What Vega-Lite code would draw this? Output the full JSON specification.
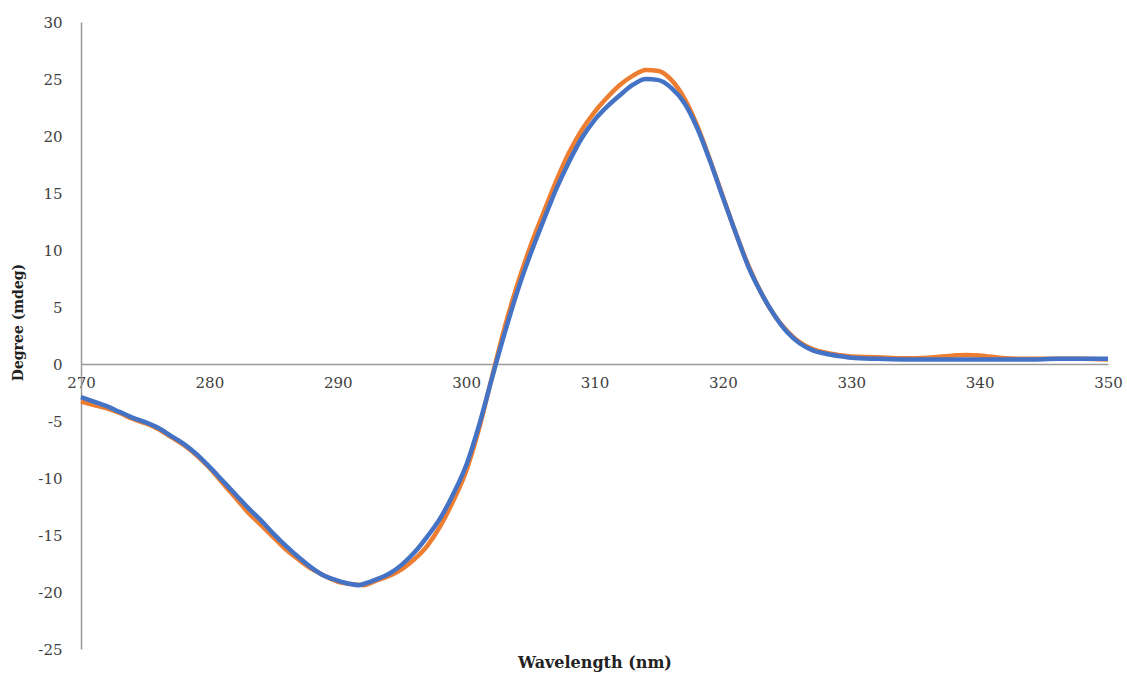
{
  "$schema": "https://vega.github.io/schema/vega-lite/v6.json",
  "width": 1027,
  "height": 627,
  "autosize": {"type": "none"},
  "padding": {"left": 81, "top": 22, "right": 19, "bottom": 24},
  "background": "white",
  "config": {
    "view": {"stroke": null},
    "font": "DejaVu Serif"
  },
  "data": {
    "values": [
      {"series": "Sample 1", "wavelength": 270, "degree": -3.3},
      {"series": "Sample 1", "wavelength": 271, "degree": -3.6},
      {"series": "Sample 1", "wavelength": 272, "degree": -3.9},
      {"series": "Sample 1", "wavelength": 273, "degree": -4.3},
      {"series": "Sample 1", "wavelength": 274, "degree": -4.8},
      {"series": "Sample 1", "wavelength": 275, "degree": -5.2},
      {"series": "Sample 1", "wavelength": 276, "degree": -5.7},
      {"series": "Sample 1", "wavelength": 277, "degree": -6.4},
      {"series": "Sample 1", "wavelength": 278, "degree": -7.1},
      {"series": "Sample 1", "wavelength": 279, "degree": -8.0},
      {"series": "Sample 1", "wavelength": 280, "degree": -9.1},
      {"series": "Sample 1", "wavelength": 281, "degree": -10.4},
      {"series": "Sample 1", "wavelength": 282, "degree": -11.7},
      {"series": "Sample 1", "wavelength": 283, "degree": -13.0},
      {"series": "Sample 1", "wavelength": 284, "degree": -14.1},
      {"series": "Sample 1", "wavelength": 285, "degree": -15.2},
      {"series": "Sample 1", "wavelength": 286, "degree": -16.3},
      {"series": "Sample 1", "wavelength": 287, "degree": -17.2},
      {"series": "Sample 1", "wavelength": 288, "degree": -18.0},
      {"series": "Sample 1", "wavelength": 289, "degree": -18.6},
      {"series": "Sample 1", "wavelength": 290, "degree": -19.1},
      {"series": "Sample 1", "wavelength": 291, "degree": -19.3},
      {"series": "Sample 1", "wavelength": 292, "degree": -19.4},
      {"series": "Sample 1", "wavelength": 293, "degree": -19.0},
      {"series": "Sample 1", "wavelength": 294, "degree": -18.6},
      {"series": "Sample 1", "wavelength": 295, "degree": -18.0},
      {"series": "Sample 1", "wavelength": 296, "degree": -17.1},
      {"series": "Sample 1", "wavelength": 297, "degree": -15.9},
      {"series": "Sample 1", "wavelength": 298, "degree": -14.2},
      {"series": "Sample 1", "wavelength": 299, "degree": -12.0},
      {"series": "Sample 1", "wavelength": 300, "degree": -9.4},
      {"series": "Sample 1", "wavelength": 301, "degree": -5.7},
      {"series": "Sample 1", "wavelength": 302, "degree": -1.2},
      {"series": "Sample 1", "wavelength": 303, "degree": 3.2},
      {"series": "Sample 1", "wavelength": 304, "degree": 7.0},
      {"series": "Sample 1", "wavelength": 305, "degree": 10.3},
      {"series": "Sample 1", "wavelength": 306, "degree": 13.2},
      {"series": "Sample 1", "wavelength": 307, "degree": 16.0},
      {"series": "Sample 1", "wavelength": 308, "degree": 18.5},
      {"series": "Sample 1", "wavelength": 309, "degree": 20.5},
      {"series": "Sample 1", "wavelength": 310, "degree": 22.1},
      {"series": "Sample 1", "wavelength": 311, "degree": 23.4},
      {"series": "Sample 1", "wavelength": 312, "degree": 24.5},
      {"series": "Sample 1", "wavelength": 313, "degree": 25.3},
      {"series": "Sample 1", "wavelength": 314, "degree": 25.8},
      {"series": "Sample 1", "wavelength": 315, "degree": 25.7},
      {"series": "Sample 1", "wavelength": 316, "degree": 24.9},
      {"series": "Sample 1", "wavelength": 317, "degree": 23.3},
      {"series": "Sample 1", "wavelength": 318, "degree": 20.9},
      {"series": "Sample 1", "wavelength": 319, "degree": 17.9},
      {"series": "Sample 1", "wavelength": 320, "degree": 14.7},
      {"series": "Sample 1", "wavelength": 321, "degree": 11.5},
      {"series": "Sample 1", "wavelength": 322, "degree": 8.6},
      {"series": "Sample 1", "wavelength": 323, "degree": 6.2},
      {"series": "Sample 1", "wavelength": 324, "degree": 4.3},
      {"series": "Sample 1", "wavelength": 325, "degree": 2.9},
      {"series": "Sample 1", "wavelength": 326, "degree": 1.9},
      {"series": "Sample 1", "wavelength": 327, "degree": 1.3},
      {"series": "Sample 1", "wavelength": 328, "degree": 1.0},
      {"series": "Sample 1", "wavelength": 329, "degree": 0.8},
      {"series": "Sample 1", "wavelength": 330, "degree": 0.65},
      {"series": "Sample 1", "wavelength": 332, "degree": 0.6},
      {"series": "Sample 1", "wavelength": 334, "degree": 0.5},
      {"series": "Sample 1", "wavelength": 336, "degree": 0.55},
      {"series": "Sample 1", "wavelength": 338, "degree": 0.75},
      {"series": "Sample 1", "wavelength": 339, "degree": 0.8},
      {"series": "Sample 1", "wavelength": 340, "degree": 0.75},
      {"series": "Sample 1", "wavelength": 342, "degree": 0.5},
      {"series": "Sample 1", "wavelength": 344, "degree": 0.45},
      {"series": "Sample 1", "wavelength": 346, "degree": 0.45},
      {"series": "Sample 1", "wavelength": 348, "degree": 0.45},
      {"series": "Sample 1", "wavelength": 350, "degree": 0.4},
      {"series": "Sample 2", "wavelength": 270, "degree": -2.9},
      {"series": "Sample 2", "wavelength": 271, "degree": -3.3},
      {"series": "Sample 2", "wavelength": 272, "degree": -3.7},
      {"series": "Sample 2", "wavelength": 273, "degree": -4.2},
      {"series": "Sample 2", "wavelength": 274, "degree": -4.7},
      {"series": "Sample 2", "wavelength": 275, "degree": -5.1},
      {"series": "Sample 2", "wavelength": 276, "degree": -5.6},
      {"series": "Sample 2", "wavelength": 277, "degree": -6.3},
      {"series": "Sample 2", "wavelength": 278, "degree": -7.0},
      {"series": "Sample 2", "wavelength": 279, "degree": -7.9},
      {"series": "Sample 2", "wavelength": 280, "degree": -9.0},
      {"series": "Sample 2", "wavelength": 281, "degree": -10.2},
      {"series": "Sample 2", "wavelength": 282, "degree": -11.4},
      {"series": "Sample 2", "wavelength": 283, "degree": -12.6},
      {"series": "Sample 2", "wavelength": 284, "degree": -13.7},
      {"series": "Sample 2", "wavelength": 285, "degree": -14.9},
      {"series": "Sample 2", "wavelength": 286, "degree": -16.0},
      {"series": "Sample 2", "wavelength": 287, "degree": -17.0},
      {"series": "Sample 2", "wavelength": 288, "degree": -17.9},
      {"series": "Sample 2", "wavelength": 289, "degree": -18.6},
      {"series": "Sample 2", "wavelength": 290, "degree": -19.0},
      {"series": "Sample 2", "wavelength": 291, "degree": -19.3},
      {"series": "Sample 2", "wavelength": 291.6, "degree": -19.4},
      {"series": "Sample 2", "wavelength": 292, "degree": -19.3},
      {"series": "Sample 2", "wavelength": 293, "degree": -18.9},
      {"series": "Sample 2", "wavelength": 294, "degree": -18.4},
      {"series": "Sample 2", "wavelength": 295, "degree": -17.6},
      {"series": "Sample 2", "wavelength": 296, "degree": -16.5},
      {"series": "Sample 2", "wavelength": 297, "degree": -15.1},
      {"series": "Sample 2", "wavelength": 298, "degree": -13.5},
      {"series": "Sample 2", "wavelength": 299, "degree": -11.4},
      {"series": "Sample 2", "wavelength": 300, "degree": -8.9},
      {"series": "Sample 2", "wavelength": 301, "degree": -5.4},
      {"series": "Sample 2", "wavelength": 302, "degree": -1.3},
      {"series": "Sample 2", "wavelength": 303, "degree": 2.7},
      {"series": "Sample 2", "wavelength": 304, "degree": 6.4},
      {"series": "Sample 2", "wavelength": 305, "degree": 9.6},
      {"series": "Sample 2", "wavelength": 306, "degree": 12.5},
      {"series": "Sample 2", "wavelength": 307, "degree": 15.3},
      {"series": "Sample 2", "wavelength": 308, "degree": 17.7},
      {"series": "Sample 2", "wavelength": 309, "degree": 19.8},
      {"series": "Sample 2", "wavelength": 310, "degree": 21.4},
      {"series": "Sample 2", "wavelength": 311, "degree": 22.6},
      {"series": "Sample 2", "wavelength": 312, "degree": 23.6},
      {"series": "Sample 2", "wavelength": 313, "degree": 24.5},
      {"series": "Sample 2", "wavelength": 314, "degree": 25.0},
      {"series": "Sample 2", "wavelength": 315, "degree": 24.9},
      {"series": "Sample 2", "wavelength": 316, "degree": 24.2},
      {"series": "Sample 2", "wavelength": 317, "degree": 22.9},
      {"series": "Sample 2", "wavelength": 318, "degree": 20.7},
      {"series": "Sample 2", "wavelength": 319, "degree": 17.8},
      {"series": "Sample 2", "wavelength": 320, "degree": 14.6},
      {"series": "Sample 2", "wavelength": 321, "degree": 11.5},
      {"series": "Sample 2", "wavelength": 322, "degree": 8.5},
      {"series": "Sample 2", "wavelength": 323, "degree": 6.2},
      {"series": "Sample 2", "wavelength": 324, "degree": 4.3},
      {"series": "Sample 2", "wavelength": 325, "degree": 2.8},
      {"series": "Sample 2", "wavelength": 326, "degree": 1.8},
      {"series": "Sample 2", "wavelength": 327, "degree": 1.2},
      {"series": "Sample 2", "wavelength": 328, "degree": 0.9},
      {"series": "Sample 2", "wavelength": 329, "degree": 0.7},
      {"series": "Sample 2", "wavelength": 330, "degree": 0.55},
      {"series": "Sample 2", "wavelength": 332, "degree": 0.45},
      {"series": "Sample 2", "wavelength": 334, "degree": 0.4},
      {"series": "Sample 2", "wavelength": 336, "degree": 0.4},
      {"series": "Sample 2", "wavelength": 338, "degree": 0.4},
      {"series": "Sample 2", "wavelength": 340, "degree": 0.4},
      {"series": "Sample 2", "wavelength": 342, "degree": 0.4},
      {"series": "Sample 2", "wavelength": 344, "degree": 0.4},
      {"series": "Sample 2", "wavelength": 346, "degree": 0.45},
      {"series": "Sample 2", "wavelength": 348, "degree": 0.45},
      {"series": "Sample 2", "wavelength": 350, "degree": 0.45}
    ]
  },
  "mark": {"type": "line", "strokeWidth": 4.5, "interpolate": "monotone", "clip": false},
  "encoding": {
    "x": {
      "field": "wavelength",
      "type": "quantitative",
      "scale": {"domain": [270, 350], "nice": false, "zero": false},
      "axis": {
        "orient": "bottom",
        "offset": -285,
        "values": [270, 280, 290, 300, 310, 320, 330, 340, 350],
        "format": "d",
        "grid": false,
        "ticks": false,
        "domainColor": "#9a9a9a",
        "domainWidth": 1.5,
        "labelFont": "DejaVu Serif",
        "labelFontSize": 15,
        "labelColor": "#404040",
        "labelPadding": 11,
        "labelFlush": false,
        "title": "Wavelength (nm)",
        "titleFont": "DejaVu Serif",
        "titleFontSize": 16,
        "titleFontWeight": "bold",
        "titleColor": "#222222",
        "titleBaseline": "middle",
        "titleY": 298
      }
    },
    "y": {
      "field": "degree",
      "type": "quantitative",
      "scale": {"domain": [-25, 30], "nice": false, "zero": false},
      "axis": {
        "values": [-25, -20, -15, -10, -5, 0, 5, 10, 15, 20, 25, 30],
        "labelExpr": "'' + datum.value",
        "grid": false,
        "ticks": false,
        "domainColor": "#9a9a9a",
        "domainWidth": 1.5,
        "labelFont": "DejaVu Serif",
        "labelFontSize": 15,
        "labelColor": "#404040",
        "labelPadding": 19,
        "labelFlush": false,
        "title": "Degree (mdeg)",
        "titleFont": "DejaVu Serif",
        "titleFontSize": 14,
        "titleFontWeight": "bold",
        "titleColor": "#222222",
        "titleAngle": -90,
        "titleBaseline": "middle",
        "titleAlign": "center",
        "titleX": -63,
        "titleY": 300
      }
    },
    "color": {
      "field": "series",
      "type": "nominal",
      "scale": {"domain": ["Sample 1", "Sample 2"], "range": ["#ED7D31", "#4472C4"]},
      "legend": null
    }
  }
}
